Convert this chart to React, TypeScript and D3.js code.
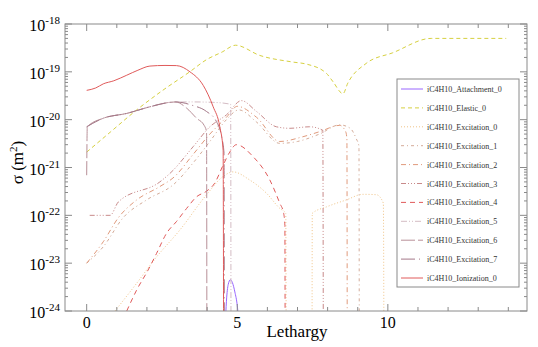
import React from "react";
import * as d3 from "d3";

// lethargy / cross section pairs, 0 = no cross section (drops off the plot)
const attachment0 = [[4.6, 5e-25], [4.64, 1.6e-24], [4.7, 3.6e-24], [4.77, 4.5e-24], [4.84, 3.9e-24], [4.92, 2.5e-24], [5.0, 1.3e-24], [5.06, 5e-25]];
const elastic0 = [[0, 2.1e-21], [0.8, 5.6e-21], [1.66, 1.6e-20], [2.5, 4.0e-20], [3.42, 1.0e-19], [3.98, 1.8e-19], [4.5, 2.6e-19], [4.94, 3.6e-19], [5.75, 2.2e-19], [6.85, 1.6e-19], [7.3, 1.45e-19], [7.96, 9.3e-20], [8.18, 6.2e-20], [8.51, 3.5e-20], [8.67, 5.8e-20], [9.28, 1.5e-19], [10.16, 2.5e-19], [11.44, 5.0e-19], [13.93, 5.0e-19]];
const excitation0 = [[0.94, 1e-24], [1.66, 3.8e-24], [2.32, 1.35e-23], [3.09, 4.9e-23], [3.98, 2.7e-22], [4.53, 6.5e-22], [4.86, 8.1e-22], [5.41, 5.5e-22], [5.97, 2.9e-22], [6.41, 1.4e-22], [6.61, 1.1e-22], [6.65, 0], [7.47, 0], [7.49, 1.1e-22], [7.96, 1.5e-22], [8.62, 2.1e-22], [9.17, 2.75e-22], [9.62, 2.7e-22], [9.85, 1.8e-22], [9.89, 0]];
const excitation1 = [[0, 1e-23], [0.55, 2.2e-23], [1.21, 8.9e-23], [1.99, 2.1e-22], [2.9, 4.5e-22], [3.54, 1.26e-21], [4.09, 3.5e-21], [4.64, 1e-20], [5.05, 1.6e-20], [5.64, 8.9e-21], [6.41, 3.2e-21], [7.0, 3.5e-21], [7.73, 5.0e-21], [8.4, 7.8e-21], [8.75, 6.6e-21], [8.95, 4.0e-21], [9.04, 2.8e-21], [9.06, 0]];
const excitation2 = [[0, 1e-23], [0.55, 2.8e-23], [1.05, 8.9e-23], [1.66, 2.1e-22], [2.43, 4.0e-22], [2.9, 6.3e-22], [3.54, 1.9e-21], [4.09, 5.0e-21], [4.64, 1.12e-20], [5.0, 1.9e-20], [5.64, 1.12e-20], [6.41, 3.5e-21], [7.18, 4.4e-21], [7.73, 5.6e-21], [8.4, 7.6e-21], [8.6, 5.6e-21], [8.64, 4.0e-21], [8.66, 0]];
const excitation3 = [[0.1, 1e-22], [0.78, 1e-22], [1.05, 1.9e-22], [2.43, 5.0e-22], [2.8, 7.9e-22], [3.54, 2.75e-21], [4.09, 7.1e-21], [4.64, 1.26e-20], [5.14, 2.5e-20], [5.64, 1.48e-20], [6.3, 7.1e-21], [6.74, 6.6e-21], [7.4, 7.1e-21], [7.84, 6.0e-21], [7.87, 0]];
const excitation4 = [[1.33, 1e-24], [1.66, 2.75e-24], [2.04, 7.2e-24], [2.32, 1.6e-23], [2.65, 4.2e-23], [2.98, 7.4e-23], [3.32, 1.4e-22], [3.65, 2.45e-22], [3.98, 3.2e-22], [4.25, 4.7e-22], [4.53, 1.12e-21], [4.75, 2.1e-21], [4.97, 3.0e-21], [5.52, 1.7e-21], [6.08, 5.5e-22], [6.41, 1.8e-22], [6.54, 1.1e-22], [6.58, 6.3e-23], [6.6, 0]];
const excitation5 = [[0, 7.1e-21], [0.55, 1.07e-20], [1.33, 1.35e-20], [2.1, 1.86e-20], [2.76, 2.3e-20], [3.5, 2.35e-20], [4.2, 2.3e-20], [4.78, 2.1e-20], [4.8, 0]];
const excitation6 = [[0, 6.9e-22], [0.02, 7.1e-21], [0.55, 1.07e-20], [1.33, 1.35e-20], [2.1, 1.86e-20], [2.76, 2.3e-20], [2.95, 2.35e-20], [3.32, 1.74e-20], [3.65, 1.07e-20], [3.9, 7.6e-21], [3.98, 5.6e-21], [4.0, 0]];
const excitation7 = [[0, 7.1e-21], [0.55, 1.07e-20], [1.33, 1.35e-20], [2.1, 1.86e-20], [2.76, 2.3e-20], [2.95, 2.35e-20], [3.5, 2.0e-20], [3.98, 1.48e-20], [4.31, 9.1e-21], [4.48, 4.4e-21], [4.56, 2.0e-21], [4.58, 0]];
const ionization0 = [[0, 4.1e-20], [0.3, 4.6e-20], [0.55, 5.6e-20], [0.9, 6.5e-20], [1.33, 8.5e-20], [1.7, 1.08e-19], [2.1, 1.32e-19], [2.6, 1.36e-19], [2.98, 1.35e-19], [3.43, 1.0e-19], [3.87, 5.2e-20], [4.2, 1.86e-20], [4.42, 7.1e-21], [4.53, 2.3e-21], [4.56, 0]];

const seriesNames = [
  "iC4H10_Attachment_0", "iC4H10_Elastic_0", "iC4H10_Excitation_0", "iC4H10_Excitation_1",
  "iC4H10_Excitation_2", "iC4H10_Excitation_3", "iC4H10_Excitation_4", "iC4H10_Excitation_5",
  "iC4H10_Excitation_6", "iC4H10_Excitation_7", "iC4H10_Ionization_0",
];
const seriesData = [attachment0, elastic0, excitation0, excitation1, excitation2, excitation3, excitation4, excitation5, excitation6, excitation7, ionization0];
const colors = ["#9966ff", "#d6d040", "#f0c488", "#d4ab98", "#e09a7c", "#c88a8a", "#e05a5a", "#d4bcc4", "#b89098", "#a47888", "#e05a5a"];
const dashes = ["none", "4 3", "1 2", "3 3 1 3", "5 3 1 3", "5 2 1 2 1 2 1 2", "5 4", "6 2 1 2 1 2", "14 3", "14 4 1 4", "none"];

const xMajor = [0, 5, 10];
const yMajor = [-24, -23, -22, -21, -20, -19, -18];

const L = 65, R = 527, T = 24, B = 311;
const serif = "'Liberation Serif', 'Times New Roman', serif";

export default function App() {
  const x = d3.scaleLinear().domain([-0.72, 14.62]).range([L, R]);
  const y = d3.scaleLog().domain([1e-24, 1e-18]).range([B, T]);
  const yv = (v: number) => (v > 0 ? y(v) : B + 400);
  const line = d3
    .line<number[]>()
    .x((d) => x(d[0]))
    .y((d) => yv(d[1]))
    .curve(d3.curveMonotoneX);

  const xMinor = d3.range(0, 15);
  const yMinor: number[] = [];
  for (let e = -24; e < -18; e++) for (let k = 2; k <= 9; k++) yMinor.push(k * Math.pow(10, e));

  return (
    <svg width={538} height={347} style={{ position: "absolute", left: 0, top: 0 }}>
      <defs>
        <clipPath id="plot">
          <rect x={L} y={T} width={R - L} height={B - T} />
        </clipPath>
      </defs>
      <rect x={0} y={0} width={538} height={347} fill="#fff" />

      <g clipPath="url(#plot)">
        {seriesData.map((d, i) => (
          <path key={i} d={line(d) || ""} fill="none" stroke={colors[i]} strokeWidth={1} strokeDasharray={dashes[i]} />
        ))}
      </g>

      {/* frame and ticks */}
      <g stroke="#8a8a8a" strokeWidth={1} fill="none">
        <rect x={L} y={T} width={R - L} height={B - T} />
        {xMinor.map((t) => {
          const len = xMajor.includes(t) ? 7 : 4;
          return (
            <g key={"x" + t}>
              <line x1={x(t)} x2={x(t)} y1={B} y2={B - len} />
              <line x1={x(t)} x2={x(t)} y1={T} y2={T + len} />
            </g>
          );
        })}
        {yMajor.map((e) => (
          <g key={"y" + e}>
            <line x1={L} x2={L + 7} y1={y(Math.pow(10, e))} y2={y(Math.pow(10, e))} />
            <line x1={R} x2={R - 7} y1={y(Math.pow(10, e))} y2={y(Math.pow(10, e))} />
          </g>
        ))}
        {yMinor.map((v, i) => (
          <g key={"ym" + i}>
            <line x1={L} x2={L + 3} y1={y(v)} y2={y(v)} />
            <line x1={R} x2={R - 3} y1={y(v)} y2={y(v)} />
          </g>
        ))}
      </g>

      {/* tick labels */}
      <g fontFamily={serif} fill="#000">
        {xMajor.map((t) => (
          <text key={t} x={x(t)} y={328} fontSize={16} textAnchor="middle">
            {t}
          </text>
        ))}
        {yMajor.map((e) => (
          <text key={e} x={60} y={y(Math.pow(10, e)) + 7} fontSize={16} textAnchor="end">
            10
            <tspan dy={-7} fontSize={11}>
              {e}
            </tspan>
          </text>
        ))}
        <text x={297} y={337} fontSize={17} textAnchor="middle">
          Lethargy
        </text>
        <text transform={`translate(23,${(T + B) / 2 - 5}) rotate(-90)`} fontSize={17} textAnchor="middle">
          σ (m
          <tspan dy={-6} fontSize={11}>
            2
          </tspan>
          <tspan dy={6}>)</tspan>
        </text>
      </g>

      {/* legend */}
      <g>
        <rect x={397} y={79} width={122} height={208} fill="#fff" stroke="#8a8a8a" strokeWidth={1} />
        {seriesNames.map((n, i) => {
          const ly = 89 + i * 18.9;
          return (
            <g key={n}>
              <line x1={401} x2={423} y1={ly} y2={ly} stroke={colors[i]} strokeWidth={1} strokeDasharray={dashes[i]} />
              <text x={427} y={ly + 3} fontSize={8} fontFamily={serif} fill="#333">
                {n}
              </text>
            </g>
          );
        })}
      </g>
    </svg>
  );
}
